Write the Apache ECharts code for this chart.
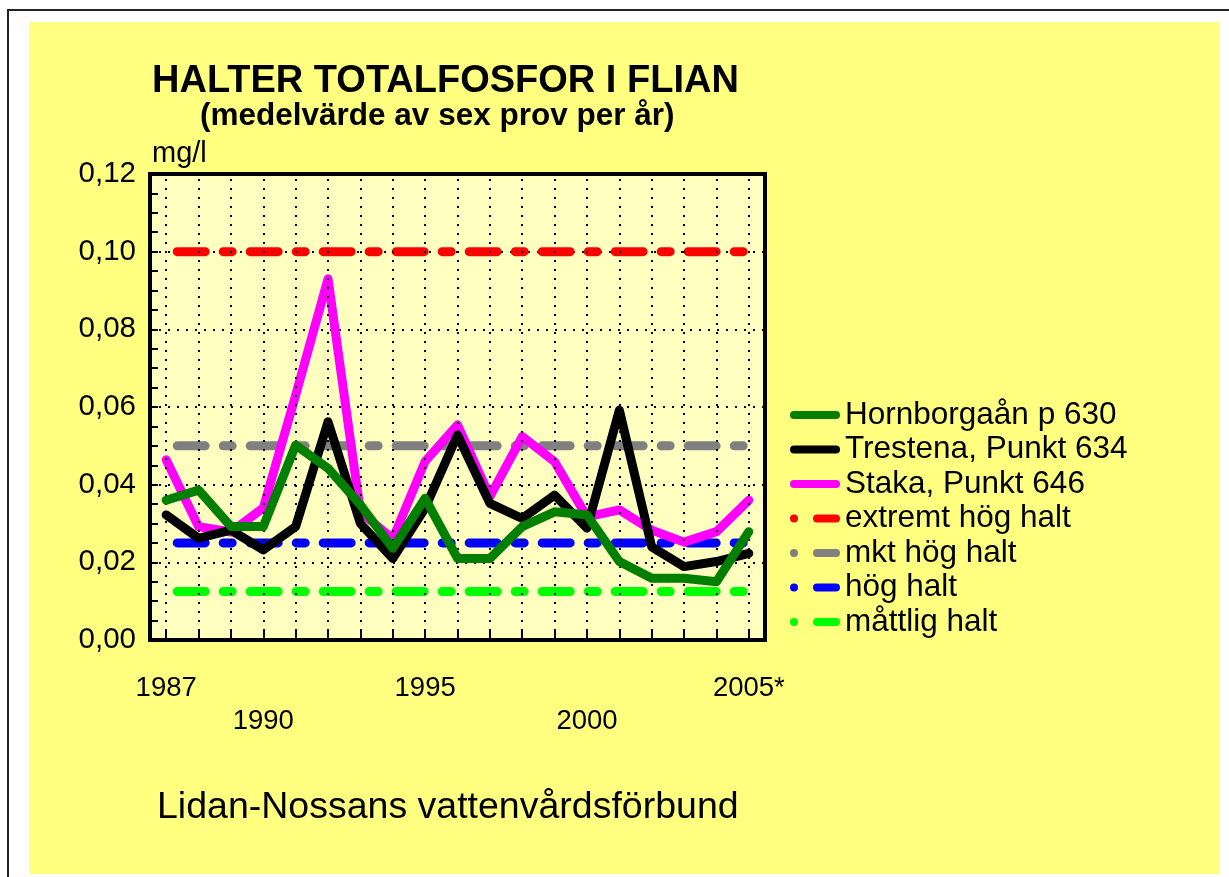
<!DOCTYPE html>
<html>
<head>
<meta charset="utf-8">
<script src="https://cdn.jsdelivr.net/npm/echarts@6/dist/echarts.min.js"></script>
<style>
  html, body { margin: 0; padding: 0; background: #ffffff; }
  #frame { position: absolute; left: 7px; top: 9px; width: 1240px; height: 880px;
           border-top: 2px solid #222; border-left: 2px solid #222; }
  #panel { position: absolute; left: 29px; top: 22px; width: 1191px; height: 852px; background: #FFFF80; }
  #chart { position: absolute; left: 0; top: 0; width: 1229px; height: 877px; }
</style>
</head>
<body>
<div id="frame"></div>
<div id="panel"></div>
<div id="chart"></div>
<script>
// ---- data ----
const years = ['1987','1988','1989','1990','1991','1992','1993','1994','1995','1996',
               '1997','1998','1999','2000','2001','2002','2003','2004','2005'];
const xTickLabels = ['1987','','','1990','','','','','1995','','','','','2000','','','','','2005*'];
const xSecondRow  = ['1990','2000'];
const yTickLabels = ['0,00','0,02','0,04','0,06','0,08','0,10','0,12'];

const hornborgaan = [0.036, 0.0386, 0.0292, 0.0292, 0.0502, 0.0442, 0.0348, 0.0236, 0.0365, 0.021,
                     0.021, 0.0292, 0.033, 0.0322, 0.0202, 0.0159, 0.0159, 0.015, 0.0279];
const trestena    = [0.0322, 0.0262, 0.0283, 0.0232, 0.0292, 0.0562, 0.030, 0.021, 0.034, 0.0528,
                     0.0352, 0.0313, 0.0373, 0.0288, 0.0592, 0.024, 0.0189, 0.0202, 0.0223];
const staka       = [0.0464, 0.0292, 0.0278, 0.034, 0.063, 0.093, 0.033, 0.026, 0.046, 0.0554,
                     0.0369, 0.0524, 0.0459, 0.0317, 0.0335, 0.0283, 0.0252, 0.0279, 0.036];

const extremtHog = 0.10;
const mktHog     = 0.05;
const hog        = 0.025;
const mattlig    = 0.0125;

// ---- chart ----
const FONT = '"Liberation Sans", Arial, sans-serif';
const chart = echarts.init(document.getElementById('chart'), null, { renderer: 'canvas' });

const solid = (color) => ({ color: color, width: 9, cap: 'round', join: 'round' });
const dashed = (color) => ({ color: color, width: 9, cap: 'round', join: 'round',
                             type: [28, 18, 9, 18], dashOffset: 62 });
const ICON_SOLID = 'path://M4,0L46,0A4,4,0,0,1,46,8L4,8A4,4,0,0,1,4,0Z';
const ICON_DASH  = 'path://M4,0A4,4,0,0,1,4,8A4,4,0,0,1,4,0ZM27,0L46,0A4,4,0,0,1,46,8L27,8A4,4,0,0,1,27,0Z';

function refSeries(name, value, color) {
  return {
    name: name, type: 'line', symbol: 'none', z: 2, silent: true,
    data: [[years[0], value], [years[years.length - 1], value]],
    lineStyle: dashed(color), itemStyle: { color: color }
  };
}

const option = {
  backgroundColor: 'transparent',
  animation: false,
  textStyle: { fontFamily: FONT },
  graphic: [
    { type: 'text', x: 152, y: 82, style: { text: 'HALTER TOTALFOSFOR I FLIAN',
      font: 'bold 38px ' + FONT, fill: '#000', verticalAlign: 'middle' } },
    { type: 'text', x: 200, y: 116, style: { text: '(medelvärde av sex prov per år)',
      font: 'bold 31.5px ' + FONT, fill: '#000', verticalAlign: 'middle' } },
    { type: 'text', x: 152, y: 154, style: { text: 'mg/l',
      font: '29px ' + FONT, fill: '#000', verticalAlign: 'middle' } },
    { type: 'text', x: 157, y: 808, style: { text: 'Lidan-Nossans vattenvårdsförbund',
      font: '37.5px ' + FONT, fill: '#000', verticalAlign: 'middle' } }
  ],
  grid: {
    left: 150, right: 464, top: 174, bottom: 237,
    show: true, backgroundColor: '#FFFFC0', borderColor: '#000', borderWidth: 4
  },
  legend: {
    orient: 'vertical', left: 785, top: 394,
    itemWidth: 50, itemHeight: 8, itemGap: 2.5,
    formatter: name => '{t|' + name + '}',
    textStyle: { rich: { t: { fontFamily: FONT, fontSize: 31.5, lineHeight: 30, color: '#000',
                              padding: [0, 0, 0, 0] } } },
    data: [
      { name: 'Hornborgaån p 630', icon: ICON_SOLID },
      { name: 'Trestena, Punkt 634', icon: ICON_SOLID },
      { name: 'Staka, Punkt 646', icon: ICON_SOLID },
      { name: 'extremt hög halt', icon: ICON_DASH },
      { name: 'mkt hög halt', icon: ICON_DASH },
      { name: 'hög halt', icon: ICON_DASH },
      { name: 'måttlig halt', icon: ICON_DASH }
    ]
  },
  xAxis: {
    type: 'category', data: years, boundaryGap: true,
    axisLine: { lineStyle: { color: '#000', width: 4 } },
    axisTick: { show: true, inside: true, length: 10, alignWithLabel: true, interval: 0,
                lineStyle: { color: '#000', width: 2 } },
    axisLabel: {
      interval: 0, margin: 32, color: '#000', fontFamily: FONT, fontSize: 27.5, lineHeight: 33,
      verticalAlign: 'top',
      formatter: (v, i) => {
        const lab = xTickLabels[i];
        if (!lab) return '';
        return xSecondRow.indexOf(lab) >= 0 ? '\n' + lab : lab;
      }
    },
    splitLine: { show: false }
  },
  yAxis: {
    type: 'value', min: 0, max: 0.12, interval: 0.02,
    axisLine: { show: true, lineStyle: { color: '#000', width: 4 } },
    axisTick: { show: true, inside: true, length: 8, lineStyle: { color: '#000', width: 2 } },
    minorTick: { show: true, splitNumber: 4, length: 8, lineStyle: { color: '#000', width: 2 } },
    axisLabel: { margin: 14, color: '#000', fontFamily: FONT, fontSize: 29.5,
                 formatter: v => yTickLabels[Math.round(v / 0.02)] },
    splitLine: { show: true, lineStyle: { color: '#000', width: 2, type: [2, 7] } }
  },
  series: [
    {
      name: 'vgrid', type: 'line', data: [], z: 1, silent: true,
      markLine: {
        silent: true, symbol: 'none', label: { show: false },
        lineStyle: { color: '#000', width: 2, type: [2, 7] },
        emphasis: { disabled: true },
        data: years.map(y => ({ xAxis: y }))
      }
    },
    { name: 'Hornborgaån p 630', type: 'line', symbol: 'none', z: 5, data: hornborgaan,
      lineStyle: solid('#007F00'), itemStyle: { color: '#007F00' } },
    { name: 'Trestena, Punkt 634', type: 'line', symbol: 'none', z: 4, data: trestena,
      lineStyle: solid('#000000'), itemStyle: { color: '#000000' } },
    { name: 'Staka, Punkt 646', type: 'line', symbol: 'none', z: 3, data: staka,
      lineStyle: solid('#FF00FF'), itemStyle: { color: '#FF00FF' } },
    refSeries('extremt hög halt', extremtHog, '#FF0000'),
    refSeries('mkt hög halt', mktHog, '#808080'),
    refSeries('hög halt', hog, '#0000FF'),
    refSeries('måttlig halt', mattlig, '#00FF00')
  ]
};
chart.setOption(option);
</script>
</body>
</html>
